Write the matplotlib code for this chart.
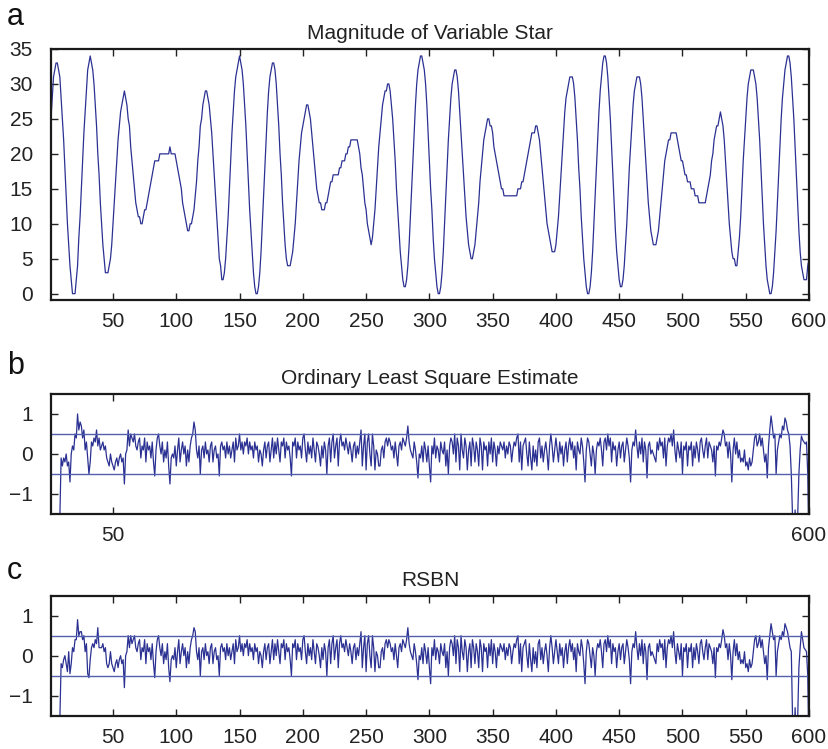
import matplotlib
matplotlib.use("Agg")
import matplotlib.pyplot as plt
import numpy as np

plt.rcParams['font.family'] = ['Liberation Sans', 'DejaVu Sans']

# Daily magnitude of the variable star, days 1..600
star_magnitude = [
    25, 28, 31, 32, 33, 33, 32, 31, 28, 25, 22, 18, 14, 10, 7, 4, 2, 0, 0, 0,
    2, 4, 8, 11, 15, 19, 23, 26, 29, 32, 33, 34, 33, 32, 30, 27, 24, 20, 17, 13,
    10, 7, 5, 3, 3, 3, 4, 5, 7, 10, 13, 16, 19, 22, 24, 26, 27, 28, 29, 28,
    27, 25, 24, 21, 19, 17, 15, 13, 12, 11, 11, 10, 10, 11, 12, 12, 13, 14, 15, 16,
    17, 18, 19, 19, 19, 19, 20, 20, 20, 20, 20, 20, 20, 20, 21, 20, 20, 20, 20, 19,
    18, 17, 16, 15, 13, 12, 11, 10, 9, 9, 10, 10, 11, 12, 14, 16, 19, 21, 24, 25,
    27, 28, 29, 29, 28, 27, 25, 23, 20, 17, 14, 11, 8, 5, 4, 2, 2, 3, 5, 8,
    11, 15, 19, 23, 26, 29, 31, 32, 33, 34, 33, 32, 30, 27, 24, 20, 16, 12, 9, 6,
    3, 1, 0, 0, 1, 3, 6, 10, 14, 18, 22, 26, 29, 31, 32, 33, 33, 32, 30, 27,
    24, 20, 17, 13, 10, 7, 5, 4, 4, 4, 5, 6, 8, 10, 13, 16, 19, 21, 23, 24,
    25, 26, 27, 27, 26, 25, 23, 21, 19, 17, 15, 14, 13, 13, 12, 12, 12, 13, 13, 14,
    15, 16, 16, 17, 17, 17, 17, 17, 18, 18, 19, 19, 19, 20, 20, 21, 21, 22, 22, 22,
    22, 22, 22, 21, 20, 18, 17, 15, 13, 12, 10, 9, 8, 7, 8, 10, 12, 15, 18, 21,
    23, 25, 27, 28, 29, 29, 30, 30, 29, 27, 25, 22, 19, 15, 12, 9, 6, 4, 2, 1,
    1, 2, 4, 7, 11, 15, 19, 23, 27, 30, 32, 33, 34, 34, 33, 32, 30, 27, 23, 19,
    15, 12, 8, 5, 3, 1, 0, 0, 1, 3, 6, 10, 14, 18, 22, 25, 28, 30, 31, 32,
    32, 31, 29, 26, 23, 20, 17, 14, 11, 9, 7, 6, 5, 5, 6, 7, 9, 11, 13, 16,
    18, 20, 22, 23, 24, 25, 25, 24, 24, 23, 21, 20, 19, 18, 17, 16, 15, 15, 14, 14,
    14, 14, 14, 14, 14, 14, 14, 14, 14, 15, 15, 15, 16, 16, 17, 18, 19, 20, 21, 22,
    23, 23, 23, 24, 24, 23, 22, 20, 18, 16, 14, 12, 10, 9, 8, 7, 6, 6, 6, 7,
    9, 11, 14, 17, 20, 23, 26, 28, 29, 30, 31, 31, 31, 30, 28, 25, 22, 18, 15, 11,
    8, 5, 3, 1, 0, 0, 1, 3, 6, 10, 14, 18, 22, 26, 29, 31, 33, 34, 34, 33,
    31, 28, 25, 21, 17, 13, 9, 6, 4, 2, 1, 1, 2, 4, 7, 10, 14, 18, 21, 24,
    27, 29, 30, 31, 31, 31, 30, 28, 25, 22, 19, 16, 13, 11, 9, 8, 7, 7, 7, 8,
    9, 11, 13, 15, 17, 19, 20, 21, 22, 22, 23, 23, 23, 23, 23, 22, 21, 20, 19, 19,
    18, 17, 17, 16, 16, 16, 15, 15, 15, 14, 14, 14, 13, 13, 13, 13, 13, 13, 14, 15,
    16, 17, 19, 20, 22, 23, 24, 24, 25, 26, 25, 24, 22, 19, 16, 13, 10, 8, 6, 5,
    5, 4, 4, 6, 8, 11, 15, 19, 22, 25, 28, 30, 31, 32, 32, 32, 31, 30, 28, 25,
    22, 18, 14, 10, 7, 4, 2, 1, 0, 0, 1, 3, 6, 9, 13, 17, 21, 25, 28, 30,
    32, 33, 34, 34, 33, 31, 28, 25, 21, 17, 13, 9, 6, 4, 3, 2, 2, 2, 4, 5,
]

# Residuals of the ordinary least square fit
ols_residuals = [
    -2.6, -3.1, -2.8, -2.4, -2.2, -2.0, -1.8, -1.6, -0.1, -0.3, -0.1, -0.2, 0.0, -0.3, -0.2, -0.7, 0.0, 0.2, 0.1, 0.5,
    0.4, 1.0, 0.6, 0.8, 0.7, 0.4, 0.6, 0.1, 0.3, -0.1, -0.5, -0.2, 0.3, 0.2, 0.4, 0.3, 0.6, 0.2, 0.4, 0.1,
    0.2, 0.3, 0.1, 0.2, -0.1, -0.2, -0.3, 0.0, -0.2, -0.3, -0.4, -0.2, -0.1, -0.3, -0.1, 0.0, -0.2, -0.1, -0.75, 0.0,
    0.1, 0.6, 0.2, 0.5, 0.4, 0.3, 0.5, 0.2, 0.1, 0.3, 0.4, -0.1, 0.2, 0.1, 0.4, -0.2, 0.3, 0.1, 0.2, -0.1,
    0.3, -0.2, -0.55, 0.1, 0.4, 0.5, 0.2, 0.0, 0.3, -0.2, 0.1, -0.1, 0.3, -0.3, -0.75, -0.1, 0.0, -0.1, 0.2, -0.3,
    0.1, 0.4, -0.2, 0.1, 0.3, 0.0, 0.2, -0.3, 0.1, -0.2, 0.2, 0.4, 0.5, 0.8, 0.6, 0.1, -0.1, 0.2, -0.5, 0.1,
    0.2, -0.1, 0.3, 0.0, 0.1, -0.2, 0.2, 0.3, -0.2, 0.1, 0.2, -0.1, 0.0, -0.55, 0.2, 0.3, 0.1, 0.2, -0.1, 0.3,
    0.0, 0.2, -0.1, 0.1, 0.3, -0.2, 0.4, 0.1, 0.2, 0.5, 0.1, 0.3, 0.0, 0.3, 0.2, 0.4, 0.0, 0.3, 0.1, 0.2,
    -0.1, 0.3, 0.1, 0.2, -0.2, 0.1, 0.0, -0.3, 0.1, 0.3, -0.1, 0.2, 0.3, -0.2, 0.1, 0.4, -0.1, 0.3, 0.0, 0.4,
    0.1, -0.2, 0.3, 0.2, 0.4, -0.1, 0.3, 0.1, 0.2, -0.1, -0.55, 0.3, 0.2, 0.4, -0.1, 0.3, 0.1, 0.2, -0.1, 0.4,
    0.5, 0.1, -0.2, 0.3, 0.0, 0.2, -0.1, 0.4, 0.1, -0.2, 0.3, 0.2, 0.0, -0.3, 0.2, -0.1, 0.3, 0.1, -0.5, 0.2,
    0.4, -0.2, 0.3, 0.5, -0.1, 0.2, 0.4, -0.3, 0.3, 0.5, 0.2, 0.3, 0.1, 0.4, 0.2, 0.0, 0.3, 0.1, -0.2, 0.2,
    0.3, -0.1, 0.2, 0.0, 0.3, 0.6, -0.3, 0.2, 0.5, -0.4, 0.3, 0.5, 0.0, -0.3, 0.5, 0.2, -0.4, 0.1, 0.0, -0.3,
    -0.3, 0.1, 0.2, -0.1, 0.3, 0.4, 0.2, 0.4, 0.3, 0.1, 0.2, -0.1, 0.3, 0.0, -0.3, 0.2, 0.3, 0.1, 0.4, 0.3,
    0.2, 0.4, 0.7, 0.3, 0.1, 0.0, -0.1, 0.3, 0.1, -0.2, -0.6, 0.0, -0.1, 0.2, -0.2, 0.3, 0.1, -0.2, 0.2, -0.3,
    -0.7, 0.2, 0.0, 0.4, -0.1, 0.2, 0.1, -0.2, 0.3, 0.1, 0.0, 0.3, -0.3, 0.1, -0.5, 0.2, 0.4, 0.3, 0.0, 0.5,
    -0.2, 0.4, 0.2, -0.4, 0.5, 0.1, -0.1, 0.4, 0.2, -0.4, 0.1, 0.3, -0.3, 0.4, 0.2, -0.2, 0.3, 0.1, -0.3, 0.4,
    0.2, -0.4, 0.3, 0.1, 0.2, -0.3, 0.3, 0.0, 0.4, -0.2, 0.3, 0.1, -0.3, 0.2, 0.0, 0.3, 0.2, 0.1, 0.3, -0.1,
    0.2, 0.0, 0.3, 0.2, -0.2, 0.1, 0.3, 0.2, 0.4, 0.5, -0.2, 0.3, -0.4, 0.2, 0.3, 0.4, 0.0, -0.3, 0.3, -0.1,
    -0.4, 0.2, -0.2, 0.1, -0.3, 0.3, 0.4, -0.1, 0.2, -0.2, 0.1, 0.3, 0.0, -0.4, 0.2, 0.5, 0.2, -0.2, 0.1, 0.4,
    0.1, -0.2, 0.3, 0.0, 0.2, -0.3, 0.1, 0.3, -0.2, 0.2, 0.4, 0.1, 0.3, -0.1, 0.2, -0.4, 0.3, 0.1, 0.0, 0.4,
    0.2, -0.2, -0.7, 0.1, 0.4, 0.3, 0.0, -0.3, 0.2, 0.0, -0.5, 0.1, 0.3, 0.2, 0.4, 0.1, -0.3, 0.3, 0.4, 0.1,
    0.5, 0.2, 0.4, -0.2, 0.3, 0.1, 0.2, -0.3, 0.1, 0.3, -0.1, 0.2, 0.3, -0.2, 0.1, 0.4, 0.2, -0.1, -0.7, 0.1,
    0.3, 0.2, 0.6, 0.2, -0.1, 0.3, 0.0, 0.4, -0.2, 0.3, 0.1, -0.6, 0.2, 0.3, 0.0, 0.1, 0.0, -0.1, -0.2, 0.3,
    0.1, 0.4, 0.2, 0.3, -0.1, 0.4, -0.3, 0.2, 0.4, 0.3, 0.5, 0.2, 0.6, 0.1, -0.2, 0.3, 0.1, -0.1, 0.3, -0.5,
    0.2, 0.1, 0.3, -0.3, 0.2, 0.1, 0.3, -0.3, 0.2, -0.1, 0.3, 0.1, -0.2, 0.3, 0.4, 0.1, -0.1, 0.2, 0.4, -0.1,
    0.3, 0.2, 0.1, -0.2, 0.2, -0.55, 0.2, 0.1, 0.3, 0.2, 0.4, 0.6, 0.5, 0.2, 0.3, -0.1, 0.3, 0.0, -0.7, 0.1,
    0.4, 0.0, 0.3, -0.1, 0.1, -0.2, -0.1, -0.2, 0.1, -0.3, -0.2, -0.4, -0.1, -0.3, -0.2, 0.1, 0.4, 0.5, 0.2, 0.3,
    0.5, 0.2, 0.4, 0.1, -0.2, 0.0, -0.6, 0.2, 0.6, 0.95, 0.7, 0.4, 0.5, -0.5, 0.1, 0.3, 0.5, 0.4, 0.7, 0.6,
    0.9, 0.8, 0.6, 0.5, 0.2, -0.5, -1.6, -2.5, -1.4, -2.2, -1.6, -0.5, 0.1, 0.45, 0.35, 0.3, 0.25, 0.3, -0.5, -2.5,
]

# Residuals of the RSBN fit
rsbn_residuals = [
    -2.6, -3.1, -2.8, -2.4, -2.2, -2.0, -1.8, -1.6, -0.2, -0.3, -0.1, 0.0, -0.2, -0.4, 0.1, -0.45, -0.2, 0.2, 0.1, 0.4,
    0.4, 0.9, 0.5, 0.6, 0.6, 0.4, 0.5, 0.1, 0.3, -0.45, -0.55, -0.1, 0.2, 0.3, 0.2, 0.4, 0.3, 0.7, 0.2, 0.2,
    0.2, 0.3, 0.1, 0.2, -0.2, -0.3, -0.2, 0.1, -0.2, -0.3, -0.4, -0.2, -0.1, -0.3, -0.1, 0.0, -0.2, -0.1, -0.8, 0.0,
    0.1, 0.5, 0.2, 0.5, 0.3, 0.4, 0.5, 0.2, 0.1, 0.3, 0.4, -0.1, 0.2, 0.1, 0.4, -0.2, 0.3, 0.1, 0.2, -0.1,
    0.3, -0.2, -0.55, 0.1, 0.4, 0.5, 0.2, 0.0, 0.3, -0.2, 0.1, -0.1, 0.3, -0.3, -0.65, -0.1, 0.0, -0.1, 0.2, -0.3,
    0.1, 0.4, -0.2, 0.1, 0.3, 0.0, 0.2, -0.3, 0.1, -0.2, 0.2, 0.4, 0.5, 0.7, 0.6, 0.1, -0.1, 0.2, -0.5, 0.1,
    0.2, -0.1, 0.3, 0.0, 0.1, -0.2, 0.2, 0.3, -0.2, 0.1, 0.2, -0.1, 0.0, -0.5, 0.2, 0.3, 0.1, 0.2, -0.1, 0.3,
    0.0, 0.2, -0.1, 0.1, 0.3, -0.2, 0.4, 0.1, 0.2, 0.5, 0.1, 0.3, 0.0, 0.3, 0.2, 0.4, 0.0, 0.3, 0.1, 0.2,
    -0.1, 0.3, 0.1, 0.2, -0.2, 0.1, 0.0, -0.3, 0.1, 0.3, -0.1, 0.2, 0.3, -0.2, 0.1, 0.4, -0.1, 0.3, 0.0, 0.4,
    0.1, -0.2, 0.3, 0.2, 0.4, -0.1, 0.3, 0.1, 0.2, -0.1, -0.5, 0.3, 0.2, 0.4, -0.1, 0.3, 0.1, 0.2, -0.1, 0.4,
    0.5, 0.1, -0.2, 0.3, 0.0, 0.2, -0.1, 0.4, 0.1, -0.2, 0.3, 0.2, 0.0, -0.3, 0.2, -0.1, 0.3, 0.1, -0.5, 0.2,
    0.4, -0.2, 0.3, 0.5, -0.1, 0.2, 0.4, -0.3, 0.3, 0.5, 0.2, 0.3, 0.1, 0.4, 0.2, 0.0, 0.3, 0.1, -0.2, 0.2,
    0.3, -0.1, 0.2, 0.0, 0.3, 0.6, -0.3, 0.2, 0.5, -0.4, 0.3, 0.5, 0.0, -0.3, 0.5, 0.2, -0.4, 0.1, 0.0, -0.3,
    -0.3, 0.1, 0.2, -0.1, 0.3, 0.4, 0.2, 0.4, 0.3, 0.1, 0.2, -0.1, 0.3, 0.0, -0.3, 0.2, 0.3, 0.1, 0.4, 0.3,
    0.2, 0.4, 0.7, 0.3, 0.1, 0.0, -0.1, 0.3, 0.1, -0.2, -0.6, 0.0, -0.1, 0.2, -0.2, 0.3, 0.1, -0.2, 0.2, -0.3,
    -0.7, 0.2, 0.0, 0.4, -0.1, 0.2, 0.1, -0.2, 0.3, 0.1, 0.0, 0.3, -0.3, 0.1, -0.5, 0.2, 0.4, 0.3, 0.0, 0.5,
    -0.2, 0.4, 0.2, -0.4, 0.5, 0.1, -0.1, 0.4, 0.2, -0.4, 0.1, 0.3, -0.3, 0.4, 0.2, -0.2, 0.3, 0.1, -0.3, 0.4,
    0.2, -0.4, 0.3, 0.1, 0.2, -0.3, 0.3, 0.0, 0.4, -0.2, 0.3, 0.1, -0.3, 0.2, 0.0, 0.3, 0.2, 0.1, 0.3, -0.1,
    0.2, 0.0, 0.3, 0.2, -0.2, 0.1, 0.3, 0.2, 0.4, 0.5, -0.2, 0.3, -0.4, 0.2, 0.3, 0.4, 0.0, -0.3, 0.3, -0.1,
    -0.4, 0.2, -0.2, 0.1, -0.3, 0.3, 0.4, -0.1, 0.2, -0.2, 0.1, 0.3, 0.0, -0.4, 0.2, 0.5, 0.2, -0.2, 0.1, 0.4,
    0.1, -0.2, 0.3, 0.0, 0.2, -0.3, 0.1, 0.3, -0.2, 0.2, 0.4, 0.1, 0.3, -0.1, 0.2, -0.4, 0.3, 0.1, 0.0, 0.4,
    0.2, -0.2, -0.7, 0.1, 0.4, 0.3, 0.0, -0.3, 0.2, 0.0, -0.5, 0.1, 0.3, 0.2, 0.4, 0.1, -0.3, 0.3, 0.4, 0.1,
    0.5, 0.2, 0.4, -0.2, 0.3, 0.1, 0.2, -0.3, 0.1, 0.3, -0.1, 0.2, 0.3, -0.2, 0.1, 0.4, 0.2, -0.1, -0.7, 0.1,
    0.3, 0.2, 0.6, 0.2, -0.1, 0.3, 0.0, 0.4, -0.2, 0.3, 0.1, -0.6, 0.2, 0.3, 0.0, 0.1, 0.0, -0.1, -0.2, 0.3,
    0.1, 0.4, 0.2, 0.3, -0.1, 0.4, -0.3, 0.2, 0.4, 0.3, 0.5, 0.2, 0.6, 0.1, -0.2, 0.3, 0.1, -0.1, 0.3, -0.5,
    0.2, 0.1, 0.3, -0.3, 0.2, 0.1, 0.3, -0.3, 0.2, -0.1, 0.3, 0.1, -0.2, 0.3, 0.4, 0.1, -0.1, 0.2, 0.4, -0.1,
    0.3, 0.2, 0.1, -0.2, 0.2, -0.55, 0.2, 0.1, 0.3, 0.2, 0.4, 0.65, 0.5, 0.2, 0.3, -0.1, 0.3, 0.0, -0.6, 0.1,
    0.4, 0.0, 0.3, -0.1, 0.1, -0.2, -0.1, -0.2, 0.1, -0.3, -0.2, -0.4, -0.1, -0.3, -0.2, 0.1, 0.4, 0.5, 0.2, 0.3,
    0.5, 0.2, 0.4, 0.1, -0.2, 0.0, -0.6, 0.2, 0.5, 0.8, 0.6, 0.4, 0.5, -0.5, 0.1, 0.3, 0.5, 0.4, 0.6, 0.5,
    0.8, 0.7, 0.6, 0.4, 0.2, 0.1, -1.6, -2.5, -1.3, -2.2, -1.6, -0.3, 0.2, 0.6, 0.4, 0.2, 0.15, 0.1, -0.5, -2.5,
]

days = np.arange(1, len(star_magnitude) + 1)
band = [-0.5, 0.5]

line_color = '#2b3192'
band_color = '#5360ad'

fig = plt.figure(figsize=(8.29, 7.49), dpi=100)
ax_a = fig.add_axes([0.0615, 0.5995, 0.9144, 0.3351])
ax_b = fig.add_axes([0.0615, 0.3138, 0.9144, 0.1602])
ax_c = fig.add_axes([0.0615, 0.0445, 0.9144, 0.1602])


def style(ax):
    ax.tick_params(direction='in', length=5, width=1, top=True, right=True,
                   labelsize=15, colors='#222222')
    ax.tick_params(axis='x', pad=9)
    ax.tick_params(axis='y', pad=13)
    for s in ax.spines.values():
        s.set_linewidth(1.6)
        s.set_color('#1a1a1a')
    ax.set_xlim(1, 600)


# Panel a: magnitude
ax_a.plot(days, star_magnitude, color=line_color, lw=0.9)
style(ax_a)
ax_a.set_ylim(-0.9, 35)
ax_a.set_xticks(np.arange(50, 601, 50))
ax_a.set_yticks(np.arange(0, 36, 5))
ax_a.set_title('Magnitude of Variable Star', fontsize=15, pad=7, color='#222222')

# Panels b and c: residuals with the +-0.5 band
for ax, res, title, xt in [
    (ax_b, ols_residuals, 'Ordinary Least Square Estimate', [50, 600]),
    (ax_c, rsbn_residuals, 'RSBN', list(range(50, 601, 50))),
]:
    ax.plot(days, res, color=line_color, lw=0.9)
    for b in band:
        ax.axhline(b, color=band_color, lw=1.0)
    style(ax)
    ax.set_ylim(-1.5, 1.5)
    ax.set_yticks([-1, 0, 1])
    ax.set_yticklabels(['\u22121', '0', '1'])
    ax.set_xticks(xt)
    ax.set_title(title, fontsize=15, pad=7, color='#222222')

for letter, y in [('a', 0.977), ('b', 0.512), ('c', 0.237)]:
    fig.text(0.008, y, letter, fontsize=22, va='center', ha='left', color='#111111')

fig.savefig('out.png', dpi=100)
